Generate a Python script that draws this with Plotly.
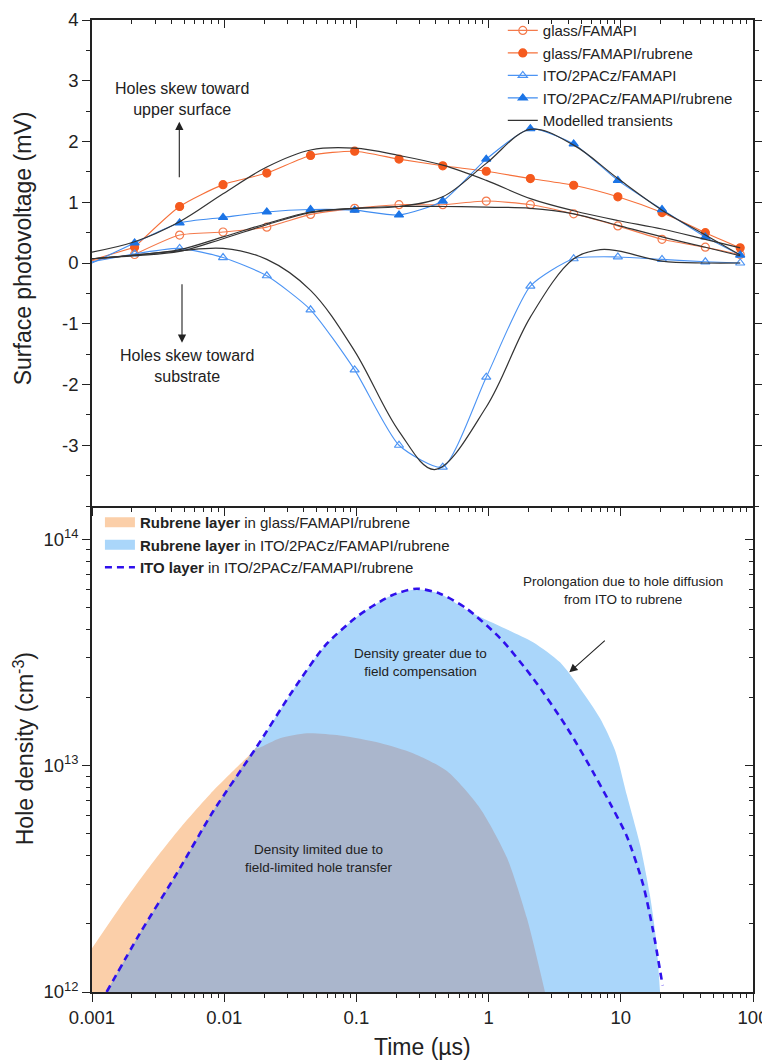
import plotly.graph_objects as go

FONT = "Arial, 'Liberation Sans', sans-serif"
INK = "#222222"

# ---------------- top panel: surface photovoltage (mV) ----------------
T_START = 0.001
T_MARK = [0.0021, 0.0046, 0.0098, 0.021, 0.045, 0.097, 0.21, 0.45, 0.96,
          2.07, 4.4, 9.5, 20.5, 43.6, 80]

SPV_GLASS = [0.14, 0.46, 0.51, 0.59, 0.80, 0.90, 0.96, 0.96, 1.02, 0.96,
             0.81, 0.61, 0.39, 0.26, 0.14]
SPV_GLASS_RUB = [0.26, 0.93, 1.29, 1.48, 1.77, 1.84, 1.71, 1.60, 1.51, 1.39,
                 1.28, 1.09, 0.83, 0.50, 0.25]
SPV_ITO = [0.15, 0.24, 0.09, -0.21, -0.77, -1.76, -3.00, -3.36, -1.88, -0.38,
           0.07, 0.10, 0.06, 0.02, 0.00]
SPV_ITO_RUB = [0.33, 0.66, 0.75, 0.84, 0.88, 0.87, 0.79, 1.02, 1.71, 2.21,
               1.96, 1.36, 0.88, 0.43, 0.13]
SPV_START = [0.04, 0.05, 0.02, 0.00]   # value at t = 0.001 for the 4 series

T_MODEL = [0.001, 0.0021, 0.0046, 0.0098, 0.021, 0.045, 0.097, 0.21, 0.45,
           0.96, 2.07, 4.4, 9.5, 20.5, 43.6, 80]
MODEL_GLASS = [0.07, 0.12, 0.19, 0.40, 0.63, 0.83, 0.90, 0.93, 0.93, 0.92,
               0.90, 0.81, 0.62, 0.43, 0.26, 0.12]
MODEL_GLASS_RUB = [0.18, 0.35, 0.68, 1.14, 1.58, 1.86, 1.89, 1.77, 1.61, 1.36,
                   1.06, 0.86, 0.70, 0.56, 0.39, 0.25]
MODEL_ITO_RUB = [0.07, 0.13, 0.22, 0.43, 0.65, 0.84, 0.90, 0.93, 1.09, 1.64,
                 2.20, 1.94, 1.39, 0.87, 0.46, 0.13]
T_MODEL_ITO = [0.001, 0.0021, 0.0046, 0.0098, 0.021, 0.045, 0.097, 0.21, 0.39,
               0.96, 2.07, 4.4, 7.0, 9.5, 20.5, 43.6, 80]
MODEL_ITO = [0.07, 0.13, 0.20, 0.24, 0.06, -0.45, -1.45, -2.77, -3.40, -2.37,
             -0.89, 0.07, 0.22, 0.20, 0.03, 0.00, 0.00]

# ---------------- bottom panel: hole density (cm^-3) ----------------
BASE = 1e12
T_RUB_GLASS = [0.001, 0.00163, 0.00275, 0.00463, 0.00782, 0.0132, 0.0177, 0.0264,
               0.0423, 0.0751, 0.151, 0.268, 0.484, 0.861, 1.38, 1.95, 2.67]
N_RUB_GLASS = [1.56e12, 2.37e12, 3.60e12, 5.29e12, 7.48e12, 1.016e13, 1.19e13,
               1.32e13, 1.39e13, 1.36e13, 1.26e13, 1.135e13, 9.46e12, 6.49e12,
               3.91e12, 2.12e12, 1.0e12]
T_RUB_ITO = [0.00129, 0.00231, 0.00438, 0.00828, 0.0176, 0.0326, 0.0582, 0.104,
             0.186, 0.286, 0.429, 0.723, 1.22, 2.17, 3.47, 4.91, 6.96, 9.04,
             11.1, 14.0, 16.6, 18.5, 19.8]
N_RUB_ITO = [1.0e12, 1.82e12, 3.34e12, 6.3e12, 1.21e13, 2.12e13, 3.40e13, 4.61e13,
             5.66e13, 6.0e13, 5.75e13, 4.77e13, 4.13e13, 3.51e13, 2.86e13, 2.20e13,
             1.62e13, 1.17e13, 7.41e12, 4.46e12, 2.68e12, 1.70e12, 1.0e12]
T_ITO = [0.00129, 0.00231, 0.00438, 0.00828, 0.0176, 0.0326, 0.0582, 0.104,
         0.186, 0.286, 0.429, 0.682, 1.22, 2.17, 3.92, 6.17, 8.28, 11.1, 14.7,
         17.5, 20.7]
N_ITO = [1.0e12, 1.82e12, 3.34e12, 6.3e12, 1.21e13, 2.12e13, 3.40e13, 4.61e13,
         5.66e13, 6.05e13, 5.75e13, 4.94e13, 3.66e13, 2.43e13, 1.47e13, 9.36e12,
         6.83e12, 4.88e12, 3.00e12, 1.88e12, 1.07e12]
T_CROSS = 0.0177  # where the orange curve meets the ITO-rubrene curve

X_TICKS = [0.001, 0.01, 0.1, 1, 10, 100]
X_TICKTEXT = ["0.001", "0.01", "0.1", "1", "10", "100"]
Y_TOP_TICKS = [-3, -2, -1, 0, 1, 2, 3, 4]
Y_TOP_TICKTEXT = ["-3", "-2", "-1", "0", "1", "2", "3", "4"]
Y_BOT_TICKS = [1e12, 1e13, 1e14]
Y_BOT_TICKTEXT = ["10<sup>12</sup>", "10<sup>13</sup>", "10<sup>14</sup>"]

C_OR_FILL = "#F55A1E"
C_OR_LINE = "#F6703A"
C_OR_OPEN = "#F47A4C"
C_BL_FILL = "#1B74E6"
C_BL_LINE = "#3F8CF0"
C_BL_OPEN = "#4C94F4"
C_MODEL = "#333333"

fig = go.Figure()

# ----- experimental series -----
series = [
    ("glass/FAMAPI", SPV_GLASS, SPV_START[0], C_OR_OPEN, C_OR_OPEN, "circle-open"),
    ("glass/FAMAPI/rubrene", SPV_GLASS_RUB, SPV_START[1], C_OR_LINE, C_OR_FILL, "circle"),
    ("ITO/2PACz/FAMAPI", SPV_ITO, SPV_START[2], C_BL_OPEN, C_BL_OPEN, "triangle-up-open"),
    ("ITO/2PACz/FAMAPI/rubrene", SPV_ITO_RUB, SPV_START[3], C_BL_LINE, C_BL_FILL, "triangle-up"),
]
for name, vals, v0, lc, mc, sym in series:
    fig.add_trace(go.Scatter(
        x=[T_START, T_MARK[0]], y=[v0, vals[0]], mode="lines",
        line=dict(color=lc, width=1.1), showlegend=False, hoverinfo="skip",
        xaxis="x", yaxis="y"))
    fig.add_trace(go.Scatter(
        x=T_MARK, y=vals, mode="lines+markers", name=name,
        line=dict(color=lc, width=1.1, shape="spline", smoothing=0.6),
        marker=dict(symbol=sym, size=8, color=mc, line=dict(color=mc, width=1.2)),
        xaxis="x", yaxis="y", legend="legend"))

# ----- modelled transients -----
models = [(T_MODEL, MODEL_GLASS), (T_MODEL, MODEL_GLASS_RUB),
          (T_MODEL, MODEL_ITO_RUB), (T_MODEL_ITO, MODEL_ITO)]
for i, (tt, vv) in enumerate(models):
    fig.add_trace(go.Scatter(
        x=tt, y=vv, mode="lines", name="Modelled transients",
        line=dict(color=C_MODEL, width=1.2, shape="spline", smoothing=1.0),
        showlegend=(i == 0), xaxis="x", yaxis="y", legend="legend"))

# ----- bottom areas -----
C_ORANGE_AREA = "#FBCFA9"
C_BLUE_AREA = "#AAD6FA"
C_GRAY_AREA = "#AAB6CC"
C_DASH = "#2F10EC"
SMOOTH = 0.7

fig.add_trace(go.Scatter(
    x=T_RUB_GLASS + [T_RUB_GLASS[0]], y=N_RUB_GLASS + [BASE],
    fill="toself", fillcolor=C_ORANGE_AREA, mode="lines",
    line=dict(width=0, shape="spline", smoothing=SMOOTH, color=C_ORANGE_AREA),
    showlegend=False, hoverinfo="skip", xaxis="x2", yaxis="y2"))
fig.add_trace(go.Scatter(
    x=T_RUB_ITO, y=N_RUB_ITO, fill="toself", fillcolor=C_BLUE_AREA, mode="lines",
    line=dict(width=0, shape="spline", smoothing=SMOOTH, color=C_BLUE_AREA),
    showlegend=False, hoverinfo="skip", xaxis="x2", yaxis="y2"))
t_gray = [t for t in T_RUB_ITO if t < T_CROSS] + [t for t in T_RUB_GLASS if t >= T_CROSS]
n_gray = ([n for t, n in zip(T_RUB_ITO, N_RUB_ITO) if t < T_CROSS]
          + [n for t, n in zip(T_RUB_GLASS, N_RUB_GLASS) if t >= T_CROSS])
fig.add_trace(go.Scatter(
    x=t_gray, y=n_gray, fill="toself", fillcolor=C_GRAY_AREA, mode="lines",
    line=dict(width=0, shape="spline", smoothing=SMOOTH, color=C_GRAY_AREA),
    showlegend=False, hoverinfo="skip", xaxis="x2", yaxis="y2"))
fig.add_trace(go.Scatter(
    x=T_ITO, y=N_ITO, mode="lines", showlegend=False,
    line=dict(color=C_DASH, width=2.6, dash="7px,5px", shape="spline", smoothing=SMOOTH),
    xaxis="x2", yaxis="y2"))

# legend proxies for the bottom panel
fig.add_trace(go.Scatter(x=[None], y=[None], mode="lines", legend="legend2",
                         name="<b>Rubrene layer</b> in glass/FAMAPI/rubrene",
                         line=dict(color=C_ORANGE_AREA, width=16),
                         xaxis="x2", yaxis="y2"))
fig.add_trace(go.Scatter(x=[None], y=[None], mode="lines", legend="legend2",
                         name="<b>Rubrene layer</b> in ITO/2PACz/FAMAPI/rubrene",
                         line=dict(color=C_BLUE_AREA, width=16),
                         xaxis="x2", yaxis="y2"))
fig.add_trace(go.Scatter(x=[None], y=[None], mode="lines", legend="legend2",
                         name="<b>ITO layer</b> in ITO/2PACz/FAMAPI/rubrene",
                         line=dict(color=C_DASH, width=2.6, dash="7px,5px"),
                         xaxis="x2", yaxis="y2"))

# carriers for the extra frame axes (top edge / bottom-right edge)
fig.add_trace(go.Scatter(x=[None], y=[None], xaxis="x3", yaxis="y",
                         showlegend=False, hoverinfo="skip"))
fig.add_trace(go.Scatter(x=[None], y=[None], xaxis="x2", yaxis="y3",
                         showlegend=False, hoverinfo="skip"))

X_MINOR = [k * 10.0 ** e for e in range(-3, 2) for k in range(2, 10)]
Y_MINOR = [k * 10.0 ** e for e in (12, 13) for k in range(2, 10)]

tickfont = dict(family=FONT, size=18.5, color=INK)
common_x = dict(type="log", range=[-3, 2], showgrid=False, zeroline=False,
                showline=True, linecolor=INK, linewidth=1.6, automargin=False,
                tickcolor=INK, tickwidth=1.4, ticklen=8,
                tickmode="array", tickvals=X_TICKS, ticktext=X_TICKTEXT,
                tickfont=tickfont)

# the page body adds an 8 px offset, so the figure is 8 px smaller on each axis
fig.update_layout(
    width=762, height=1054,
    margin=dict(l=84, r=17, t=12, b=70, autoexpand=False),
    paper_bgcolor="white", plot_bgcolor="white",
    font=dict(family=FONT, color=INK),
    xaxis=dict(common_x, anchor="y", domain=[0, 1], ticks="outside",
               showticklabels=False,
               minor=dict(tickmode="array", tickvals=X_MINOR, ticks="outside",
                          ticklen=4, tickcolor=INK, tickwidth=1.2)),
    xaxis3=dict(common_x, anchor="y", overlaying="x", side="top", ticks="inside",
                showticklabels=False,
                minor=dict(tickmode="array", tickvals=X_MINOR, ticks="inside",
                           ticklen=4, tickcolor=INK, tickwidth=1.2)),
    xaxis2=dict(common_x, anchor="y2", domain=[0, 1], ticks="outside",
                minor=dict(tickmode="array", tickvals=X_MINOR, ticks="outside",
                           ticklen=4, tickcolor=INK, tickwidth=1.2)),
    yaxis=dict(domain=[0.5, 1], anchor="x", range=[-4, 4], showgrid=False,
               zeroline=False, showline=True, linecolor=INK, linewidth=1.6,
               mirror="ticks", ticks="outside", ticklen=8, tickwidth=1.4,
               tickcolor=INK, tickmode="array", tickvals=Y_TOP_TICKS,
               ticktext=Y_TOP_TICKTEXT, tickfont=tickfont, automargin=False,
               minor=dict(dtick=0.5, ticks="outside", ticklen=4,
                          tickcolor=INK, tickwidth=1.2)),
    yaxis2=dict(domain=[0, 0.5], anchor="x2", type="log", range=[12, 14.147],
                showgrid=False, zeroline=False, showline=True, linecolor=INK,
                linewidth=1.6, ticks="outside", ticklen=8, tickwidth=1.4,
                tickcolor=INK, tickmode="array", tickvals=Y_BOT_TICKS,
                ticktext=Y_BOT_TICKTEXT, tickfont=tickfont, automargin=False,
                minor=dict(tickmode="array", tickvals=Y_MINOR, ticks="outside",
                           ticklen=4, tickcolor=INK, tickwidth=1.2)),
    yaxis3=dict(anchor="x2", overlaying="y2", side="right", type="log",
                range=[12, 14.147], showgrid=False, zeroline=False,
                showline=True, linecolor=INK, linewidth=1.6, ticks="inside",
                ticklen=8, tickwidth=1.4, tickcolor=INK, tickmode="array",
                tickvals=Y_BOT_TICKS, showticklabels=False, automargin=False,
                minor=dict(tickmode="array", tickvals=Y_MINOR, ticks="inside",
                           ticklen=4, tickcolor=INK, tickwidth=1.2)),
    legend=dict(x=0.977, xanchor="right", y=1.006, yanchor="top",
                font=dict(family=FONT, size=15, color=INK),
                bgcolor="rgba(0,0,0,0)", tracegroupgap=0, itemwidth=30),
    legend2=dict(x=0.012, xanchor="left", y=0.5, yanchor="top",
                 font=dict(family=FONT, size=15, color=INK),
                 bgcolor="rgba(0,0,0,0)", tracegroupgap=0, itemwidth=30),
    showlegend=True,
)

ann = []
def label(text, x, y, size, angle=0):
    ann.append(dict(text=text, x=x, y=y, xref="paper", yref="paper",
                    xanchor="center", yanchor="middle", showarrow=False,
                    textangle=angle, font=dict(family=FONT, size=size, color=INK)))

label("Surface photovoltage (mV)", -0.104, 0.7654, 23, -90)
label("Hole density (cm<sup>-3</sup>)", -0.103, 0.2507, 23, -90)
label("Time (µs)", 0.4997, -0.0566, 23)
label("Holes skew toward<br>upper surface", 0.1369, 0.9187, 16)
label("Holes skew toward<br>substrate", 0.1433, 0.6437, 16)
label("Density greater due to<br>field compensation", 0.4965, 0.3392, 13.5)
label("Density limited due to<br>field-limited hole transfer", 0.3434, 0.1371, 13.5)
label("Prolongation due to hole diffusion<br>from ITO to rubrene", 0.804, 0.4126, 13.5)

def arrow(px_head, py_head, dx, dy):
    ann.append(dict(text="", x=(px_head - 92) / 661, y=(992 - py_head) / 972,
                    xref="paper", yref="paper", showarrow=True, ax=dx, ay=dy,
                    arrowhead=2, arrowsize=1.5, arrowwidth=1.1, arrowcolor=INK))

arrow(179.3, 121.7, 0, 57)
arrow(182, 342.7, 0, -60)
arrow(569.3, 672.3, 37, -33)

fig.update_layout(annotations=ann)
fig.write_html("out.html")
